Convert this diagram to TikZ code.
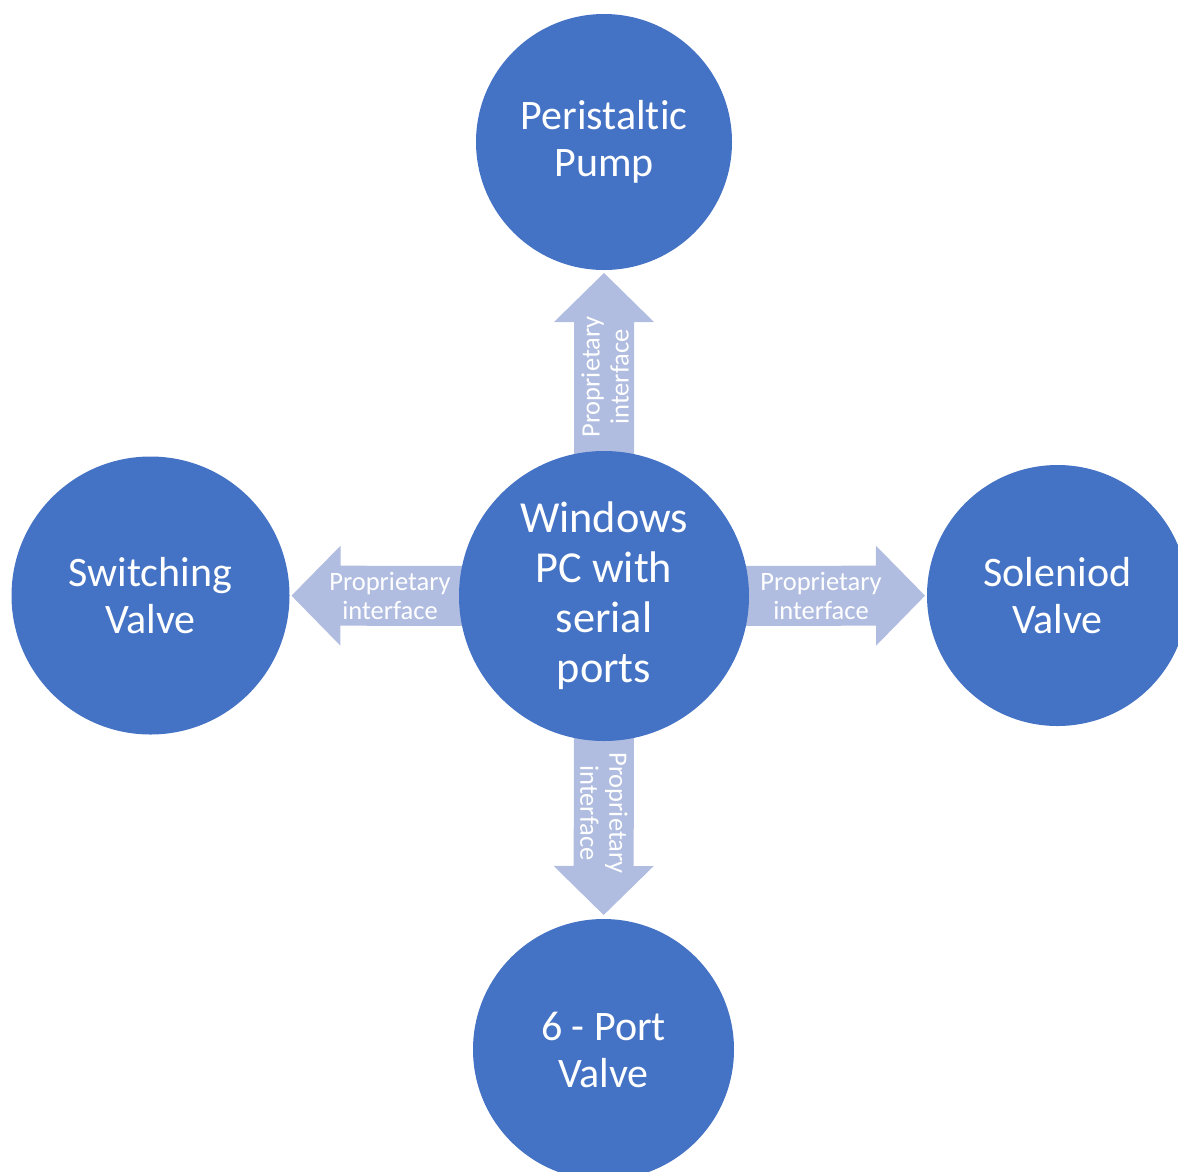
\documentclass[tikz,border=0pt]{standalone}
\usepackage{fontspec}
\setmainfont{Carlito}[Ligatures=NoCommon]
\usetikzlibrary{calc,backgrounds}
\definecolor{circblue}{HTML}{4472C4}
\definecolor{arrblue}{HTML}{B0BDE0}
\tikzset{
  bubble/.style={circle, fill=circblue, draw=none, text=white, align=center, inner sep=0pt},
  bigtext/.style={font=\fontsize{42}{47}\selectfont},
  hubtext/.style={font=\fontsize{44.3}{50}\selectfont},
  arrowfill/.style={fill=arrblue},
  arrlabel/.style={text=white, align=center, inner sep=0pt, font=\fontsize{26.5}{29}\selectfont}
}
\newcommand\blockarrow[2]{%
  \coordinate (ba-b) at ($(#2)!49pt!(#1)$);
  \fill[arrowfill] ($(#1)!30pt!90:(#2)$) -- ($(ba-b)!30pt!90:(#2)$) -- ($(ba-b)!50pt!90:(#2)$) -- (#2)
    -- ($(ba-b)!50pt!-90:(#2)$) -- ($(ba-b)!30pt!-90:(#2)$) -- ($(#1)!30pt!-90:(#2)$) -- cycle;}
\begin{document}
\begin{tikzpicture}[x=1pt,y=-1pt]
\useasboundingbox (0,0) rectangle (1178,1171);
\node[bubble, hubtext, minimum size=290pt] (pc) at (604,596) {Windows\\PC with\\serial\\ports};
\node[bubble, bigtext, minimum size=256pt] (pump) at (604,142) {Peristaltic\\Pump};
\node[bubble, bigtext, minimum size=278pt] (sw) at (150.5,595.5) {Switching\\Valve};
\node[bubble, bigtext, minimum size=261pt] (sol) at (1057.5,595.5) {Soleniod\\Valve};
\node[bubble, bigtext, minimum size=261pt] (port) at (603.5,1049.5) {6 - Port\\Valve};
\coordinate (tipT) at ($(pump.center)!131pt!(pc.center)$);
\coordinate (tipL) at ($(sw.center)!141pt!(pc.center)$);
\coordinate (tipR) at ($(sol.center)!132.5pt!(pc.center)$);
\coordinate (tipB) at ($(port.center)!134.5pt!(pc.center)$);
\begin{scope}[on background layer]
  \blockarrow{pc.center}{tipT}
  \blockarrow{pc.center}{tipL}
  \blockarrow{pc.center}{tipR}
  \blockarrow{pc.center}{tipB}
\end{scope}
\node[arrlabel, rotate=90] (lblT) at (605,377) {Proprietary\\interface};
\node[arrlabel] (lblL) at (390,596) {Proprietary\\interface};
\node[arrlabel] (lblR) at (821,596) {Proprietary\\interface};
\node[arrlabel, rotate=-90] (lblB) at (604,813) {Proprietary\\interface};
\end{tikzpicture}
\end{document}
